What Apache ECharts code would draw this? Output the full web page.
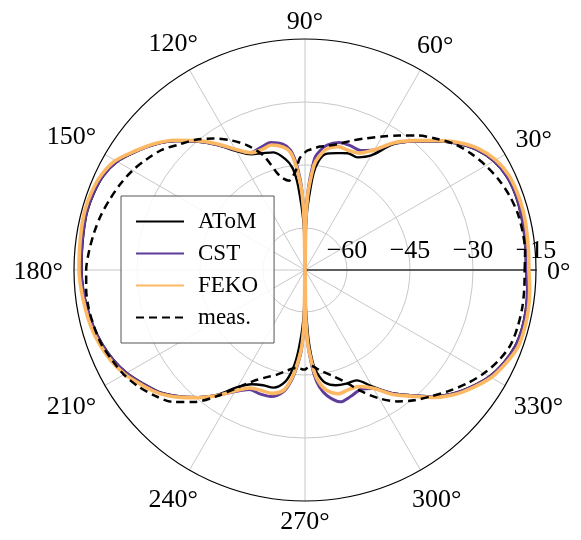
<!DOCTYPE html>
<html>
<head>
<meta charset="utf-8">
<script src="https://cdn.jsdelivr.net/npm/echarts@6/dist/echarts.min.js"></script>
<style>
  html, body { margin: 0; padding: 0; background: #fff; }
  #chart { width: 581px; height: 540px; }
</style>
</head>
<body>
<div id="chart"></div>
<script>
// angles in degrees, shared by all series
const angles = [
  0, 5, 10, 15, 20, 25, 30, 35, 40, 45, 50, 55, 60, 65, 70, 75, 80,
  83, 85, 87, 88, 89, 90, 91, 92, 93, 95, 97,
  100, 105, 110, 115, 120, 125, 130, 135, 140, 145, 150, 155, 160, 165, 170, 175, 180,
  185, 190, 195, 200, 205, 210, 215, 220, 225, 230, 235, 240, 245, 250, 255, 260,
  263, 265, 267, 268, 269, 270, 271, 272, 273, 275, 277,
  280, 285, 290, 295, 300, 305, 310, 315, 320, 325, 330, 335, 340, 345, 350, 355, 360
]

// gain in dB
const atom = [
  -17.4, -17.3, -17.1, -16.9, -16.8, -17.1, -18.1, -20.1, -23.1, -26.7, -30.1, -33.5, -38.5, -40.4, -40.4, -41.2, -42.0,
  -44, -47, -53, -56, -61, -70, -62, -58, -55, -49, -45.5,
  -43.2, -41.0, -40.4, -39.6, -37.3, -33.7, -30.1, -26.6, -23.5, -20.9, -18.4, -17.0, -16.5, -16.3, -16.5, -16.7, -16.8,
  -17.0, -17.4, -17.9, -18.6, -19.6, -21.0, -22.9, -24.8, -27.5, -30.5, -33.8, -37.8, -40.0, -40.8, -41.0, -43.0,
  -46.3, -50, -55, -58, -62, -70, -62, -58, -53, -47.5, -45,
  -42.8, -41.6, -41.2, -41.0, -38.0, -34.3, -31.1, -27.5, -24.2, -21.6, -19.3, -17.8, -16.8, -16.5, -16.6, -16.9, -17.4
]

const cst = [
  -17.3, -17.2, -17.0, -16.8, -16.7, -17.0, -18.0, -20.0, -23.0, -26.6, -30.0, -33.2, -37.0, -38.6, -38.5, -38.6, -39.8,
  -41.5, -43.2, -48.5, -52, -58, -70, -58, -52, -48.5, -44, -41.2,
  -39.6, -38.6, -39.0, -39.2, -36.9, -33.6, -30.0, -26.5, -23.4, -20.8, -18.3, -16.9, -16.4, -16.2, -16.4, -16.6, -16.7,
  -16.9, -17.3, -17.8, -18.5, -19.5, -20.9, -22.8, -24.7, -27.4, -30.4, -33.6, -36.6, -38.6, -38.6, -38.8, -40.6,
  -43.5, -46.5, -50, -53, -58, -70, -58, -53, -50, -45, -42,
  -39.6, -37.5, -38.0, -38.6, -37.4, -34.2, -31.0, -27.4, -24.1, -21.5, -19.2, -17.7, -16.7, -16.4, -16.5, -16.8, -17.3
]

const feko = [
  -16.7, -16.6, -16.4, -16.2, -16.2, -16.5, -17.6, -19.6, -22.7, -26.4, -29.8, -33.0, -37.0, -39.3, -39.7, -39.6, -40.8,
  -42.8, -44.8, -49.5, -52.5, -58, -70, -58, -52.5, -49.5, -45, -41.8,
  -40.3, -39.2, -39.6, -39.2, -36.8, -33.3, -29.8, -26.3, -23.2, -20.6, -17.9, -16.5, -15.9, -15.7, -15.9, -16.1, -16.2,
  -16.5, -16.9, -17.3, -18.0, -19.0, -20.4, -22.4, -24.4, -27.2, -30.3, -33.5, -36.8, -39.0, -39.5, -39.6, -41.0,
  -44, -47, -50.5, -53, -58, -70, -58, -53, -50.5, -46, -43.2,
  -41.0, -39.5, -39.7, -39.4, -37.5, -33.9, -30.8, -27.1, -23.8, -21.2, -18.8, -17.3, -16.1, -15.9, -16.0, -16.3, -16.7
]

const meas = [
  -17.7, -17.4, -17.4, -17.6, -18.2, -19.1, -20.3, -21.7, -23.4, -25.8, -28.2, -30.9, -33.3, -35.4, -37.2, -38.9, -40.0,
  -40.4, -40.8, -41.2, -41.4, -41.6, -42.0, -42.4, -42.9, -43.6, -46.0, -47.3,
  -48.4, -46.8, -41.0, -37.2, -34.3, -31.8, -29.5, -27.7, -25.5, -24.0, -22.6, -21.5, -20.6, -19.7, -19.0, -18.4, -17.9,
  -17.7, -17.7, -18.0, -18.4, -19.3, -20.2, -21.6, -23.4, -25.6, -29.0, -33.3, -37.6, -40.8, -42.8, -44.2, -45.7,
  -46.4, -46.6, -46.5, -46.4, -46.3, -46.3, -46.6, -47.0, -47.2, -46.9, -46.3,
  -45.4, -43.8, -41.5, -38.1, -34.7, -31.8, -29.5, -27.5, -25.2, -22.9, -20.8, -19.1, -17.9, -17.6, -17.5, -17.6, -17.7
]

const radialGrid = [-60, -45, -30]
const radialLabels = [-60, -45, -30, -15]
const angleTicks = [0, 30, 60, 90, 120, 150, 180, 210, 240, 270, 300, 330]

const rMin = -70
const rMax = -15
const polarRadius = 231
const serifFont = '"Liberation Serif", "DejaVu Serif", serif'
const tickFontSize = 26

function toPoints(values) {
  return values.map((v, i) => [v, angles[i]])
}

function makeSeries(name, values, color, width, dash) {
  return {
    name,
    type: 'line',
    coordinateSystem: 'polar',
    data: toPoints(values),
    showSymbol: false,
    symbol: 'none',
    smooth: 0.3,
    lineStyle: { color, width, type: dash || 'solid' },
    itemStyle: { color }
  }
}

// angle labels sit just outside the circle, the label box touching
// the tangent at its tick (roughly what pgfplots does)
function angleLabelData() {
  const ctx = document.createElement('canvas').getContext('2d')
  ctx.font = tickFontSize + 'px ' + serifFont
  const pxPerUnit = polarRadius / (rMax - rMin)
  return angleTicks.map((a) => {
    const text = a + '°'
    const halfW = ctx.measureText(text).width / 2 + 6
    const halfH = 14
    const rad = a * Math.PI / 180
    const ext = halfW * Math.abs(Math.cos(rad)) + halfH * Math.abs(Math.sin(rad))
    const dist = polarRadius + 5 + ext
    return { name: text, value: [rMin + dist / pxPerUnit, a] }
  })
}

const chart = echarts.init(document.getElementById('chart'), null, { renderer: 'canvas' })

chart.setOption({
  animation: false,
  backgroundColor: '#fff',
  textStyle: { fontFamily: serifFont },
  polar: {
    center: [305, 270],
    radius: polarRadius
  },
  angleAxis: {
    type: 'value',
    min: 0,
    max: 360,
    interval: 30,
    startAngle: 0,
    clockwise: false,
    axisLine: { lineStyle: { color: '#000', width: 1.2 } },
    axisTick: { show: false },
    axisLabel: { show: false },
    splitLine: { lineStyle: { color: '#c8c8c8', width: 1 } }
  },
  radiusAxis: {
    type: 'value',
    min: rMin,
    max: rMax,
    axisLine: { show: true, lineStyle: { color: '#333', width: 1.6 } },
    axisTick: { show: false, customValues: radialGrid },
    axisLabel: {
      customValues: radialLabels,
      margin: 6,
      color: '#000',
      fontSize: tickFontSize,
      fontFamily: serifFont,
      formatter: (v) => String(v).replace('-', '\u2212')
    },
    splitLine: { show: true, lineStyle: { color: '#c8c8c8', width: 1 } }
  },
  legend: {
    orient: 'vertical',
    left: 121,
    top: 196,
    padding: [14, 16, 14, 14],
    itemGap: 9,
    itemWidth: 48,
    itemHeight: 2,
    itemStyle: { opacity: 0, borderWidth: 0 },
    backgroundColor: 'rgba(255,255,255,0.85)',
    borderColor: '#555',
    borderWidth: 1,
    borderRadius: 0,
    textStyle: {
      color: '#000',
      fontSize: 23,
      lineHeight: 23,
      fontFamily: serifFont,
      padding: [0, 0, 0, 9]
    },
    data: ['AToM', 'CST', 'FEKO', 'meas.']
  },
  series: [
    makeSeries('AToM', atom, '#000', 2.4),
    makeSeries('CST', cst, '#5e3c99', 3),
    makeSeries('FEKO', feko, '#fdb863', 3.6),
    makeSeries('meas.', meas, '#000', 2.5, [8, 5]),
    {
      type: 'scatter',
      coordinateSystem: 'polar',
      data: angleLabelData(),
      symbolSize: 0,
      clip: false,
      silent: true,
      itemStyle: { opacity: 1, color: '#000' },
      label: {
        show: true,
        position: 'inside',
        offset: [0, 2],
        formatter: (p) => p.name,
        color: '#000',
        opacity: 1,
        textBorderWidth: 0,
        fontSize: tickFontSize,
        fontFamily: serifFont
      }
    }
  ]
})
</script>
</body>
</html>
